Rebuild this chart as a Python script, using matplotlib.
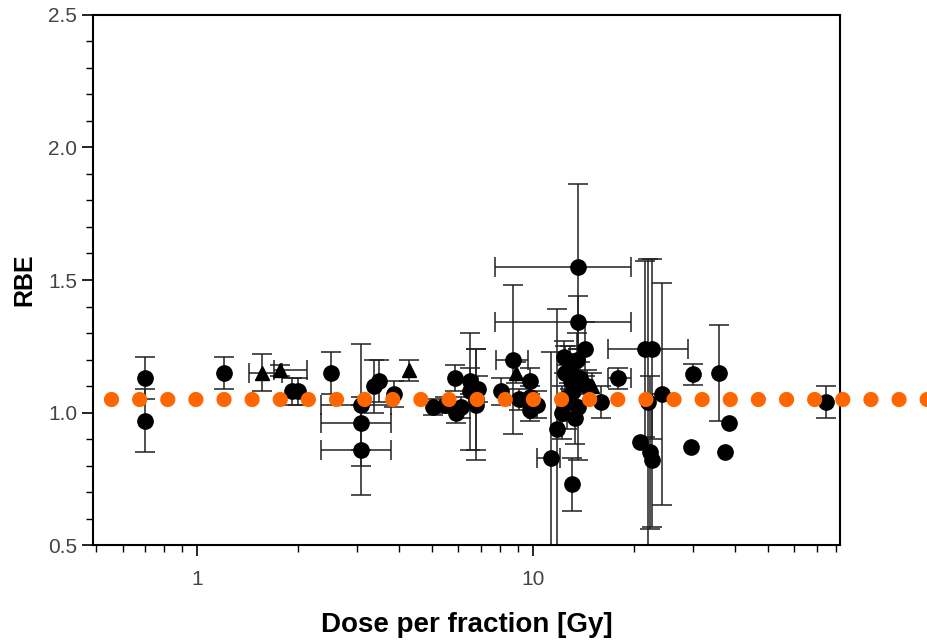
import matplotlib
matplotlib.use('Agg')
import matplotlib.pyplot as plt
import matplotlib.ticker as ticker
import numpy as np

plt.rcParams["font.family"] = ['Liberation Sans', 'DejaVu Sans']

# circles: dose [Gy], RBE, RBE error (symmetric)
dose = [0.70, 0.70, 1.20, 1.92, 2.00, 2.51, 3.07, 3.07, 3.07, 3.37,
        3.47, 3.87, 5.05, 5.49, 5.87, 5.90, 6.10, 6.50, 6.50, 6.76,
        6.76, 6.87, 8.03, 8.74, 9.80, 9.80, 10.3, 9.10, 9.80, 11.3,
        11.8, 13.6, 13.6, 12.4, 14.3, 13.5, 12.5, 13.0, 13.2, 12.8,
        13.6, 14.5, 12.2, 13.3, 13.1, 15.9, 17.9, 20.9, 21.5, 22.0,
        22.7, 22.3, 22.7, 24.3, 29.9, 35.9, 29.6, 37.2, 38.4, 74.4,
        12.9, 13.8, 12.6]
rbe = [1.13, 0.97, 1.15, 1.08, 1.08, 1.15, 1.03, 0.96, 0.86, 1.10,
       1.12, 1.07, 1.02, 1.03, 1.13, 1.00, 1.02, 1.12, 1.08, 1.03,
       1.05, 1.09, 1.08, 1.20, 1.12, 1.06, 1.03, 1.05, 1.01, 0.83,
       0.94, 1.55, 1.34, 1.21, 1.24, 1.20, 1.15, 1.12, 1.08, 1.04,
       1.02, 1.10, 1.00, 0.98, 0.73, 1.04, 1.13, 0.89, 1.24, 1.04,
       1.24, 0.85, 0.82, 1.07, 1.145, 1.15, 0.87, 0.85, 0.96, 1.04,
       1.17, 1.13, 1.06]
rbe_err = [0.08, 0.12, 0.06, 0.05, 0.05, 0.08, 0.23, 0.10, 0.17, 0.10,
           0.08, 0.05, 0.03, 0.03, 0.05, 0.04, 0.04, 0.05, 0.22, 0.21,
           0.19, 0.05, 0.05, 0.28, 0.05, 0.04, 0.05, 0.04, 0.04, 0.40,
           0.45, 0.31, 0.10, 0.06, 0.10, 0.10, 0.10, 0.08, 0.10, 0.07,
           0.20, 0.06, 0.10, 0.10, 0.10, 0.06, 0.04, 0.0, 0.33, 0.54,
           0.34, 0.29, 0.25, 0.42, 0.04, 0.18, 0.0, 0.0, 0.0, 0.06,
           0.08, 0.06, 0.12]

# circles that also have a dose range: index, lower dose, upper dose
xerr_idx = [6, 7, 8, 23, 29, 31, 32, 46, 50]
xerr_lo = [2.34, 2.34, 2.34, 7.74, 10.3, 7.7, 7.7, 16.7, 16.7]
xerr_hi = [3.79, 3.79, 3.79, 9.66, 12.0, 19.6, 19.6, 19.6, 28.9]

# triangles
tri_dose = [1.56, 1.76, 4.29, 8.9, 15.0]
tri_rbe = [1.15, 1.16, 1.16, 1.15, 1.10]
tri_err = [0.07, 0.02, 0.04, 0.04, 0.05]
tri_xidx = [0, 1]
tri_lo = [1.43, 1.69]
tri_hi = [1.79, 2.12]

ref_rbe = 1.05
ref_dose = [0.556, 160]

fig = plt.figure(figsize=(9.28, 6.4), dpi=100)
ax = fig.add_axes([0.1002, 0.148, 0.8048, 0.829])

ebkw = dict(fmt='none', ecolor='#222222', elinewidth=1.3, capsize=7, capthick=1.3, alpha=0.85)
x = np.array(dose)
y = np.array(rbe)
e = np.array(rbe_err)
m = e > 0
ax.errorbar(x[m], y[m], yerr=e[m], **ebkw)
d = x[xerr_idx]
ax.errorbar(d, y[xerr_idx], xerr=[d - np.array(xerr_lo), np.array(xerr_hi) - d], **ebkw)
td = np.array(tri_dose)
tr = np.array(tri_rbe)
ax.errorbar(td, tr, yerr=tri_err, **ebkw)
ax.errorbar(td[tri_xidx], tr[tri_xidx],
            xerr=[td[tri_xidx] - np.array(tri_lo), np.array(tri_hi) - td[tri_xidx]], **ebkw)

ax.plot(dose, rbe, 'o', color='black', markersize=11, zorder=3)
ax.plot(tri_dose, tri_rbe, '^', color='black', markersize=10, zorder=3)

ax.plot(ref_dose, [ref_rbe, ref_rbe], color='#FF6600', lw=11, dashes=[0.001, 1.84],
        dash_capstyle='round', clip_on=False, zorder=5)

ax.set_xscale('log')
ax.set_xlim(0.49, 82)
ax.set_ylim(0.5, 2.5)
ax.xaxis.set_major_locator(ticker.FixedLocator([1, 10]))
ax.xaxis.set_major_formatter(ticker.FixedFormatter(['1', '10']))
ax.xaxis.set_minor_locator(ticker.LogLocator(base=10, subs=np.arange(2, 10)))
ax.xaxis.set_minor_formatter(ticker.NullFormatter())
ax.yaxis.set_major_locator(ticker.MultipleLocator(0.5))
ax.yaxis.set_minor_locator(ticker.MultipleLocator(0.1))
ax.yaxis.set_major_formatter(ticker.FormatStrFormatter('%.1f'))

ax.tick_params(which='major', direction='out', length=8, width=1.2, labelsize=15, labelcolor='#444444')
ax.tick_params(which='minor', direction='out', length=5, width=1.0)
ax.tick_params(axis='x', pad=10)
for s in ax.spines.values():
    s.set_linewidth(1.5)

ax.set_xlabel('Dose per fraction [Gy]', fontsize=20, fontweight='bold', labelpad=16)
ax.set_ylabel('RBE', fontsize=18, fontweight='bold')
ax.yaxis.set_label_coords(-0.076, 0.5)

plt.savefig('out.png', dpi=100)
